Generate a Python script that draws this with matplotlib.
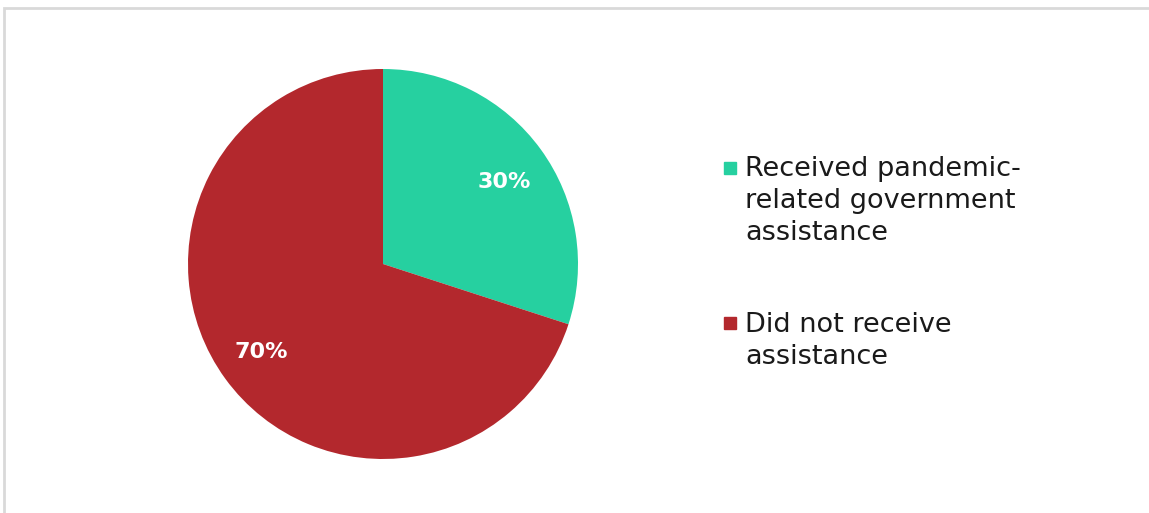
import matplotlib
matplotlib.use('Agg')
import matplotlib.pyplot as plt
from matplotlib.patches import Rectangle

labels = ['Received pandemic-\nrelated government\nassistance', 'Did not receive\nassistance']
shares = [30, 70]
colors = ['#26D0A0', '#B3282D']

W, H = 1149, 513
fig = plt.figure(figsize=(W / 100, H / 100), dpi=100)

# light grey frame, clipped at right/bottom like the screenshot
fig.patches.append(Rectangle((3.5 / W, -0.5), 2.0, (H - 7.5) / H + 0.5, transform=fig.transFigure,
                             fill=False, edgecolor='#D9D9D9', linewidth=2))

cx, cy, r = 383, 264, 195
ax = fig.add_axes([(cx - r) / W, (H - cy - r) / H, 2 * r / W, 2 * r / H])
wedges, texts, autotexts = ax.pie(shares, colors=colors, startangle=90, counterclock=False,
                                  radius=1, autopct='%d%%', pctdistance=0.77,
                                  textprops=dict(color='white', fontsize=16, fontweight='bold'))
autotexts[0].set_y(autotexts[0].get_position()[1] - 0.03)
ax.set_xlim(-1, 1)
ax.set_ylim(-1, 1)
ax.set_aspect('equal')
ax.axis('off')

# legend drawn by hand so the square sits on the first line
ys = [170, 325]
for lab, col, y in zip(labels, colors, ys):
    fig.patches.append(Rectangle((724 / W, (H - y - 4) / H), 12 / W, 12 / H,
                                 transform=fig.transFigure, color=col))
    fig.text(745 / W, (H - y + 13.5) / H, lab, fontsize=19.5, color='#1a1a1a',
             va='top', ha='left', linespacing=1.3)

fig.savefig('out.png', dpi=100)
